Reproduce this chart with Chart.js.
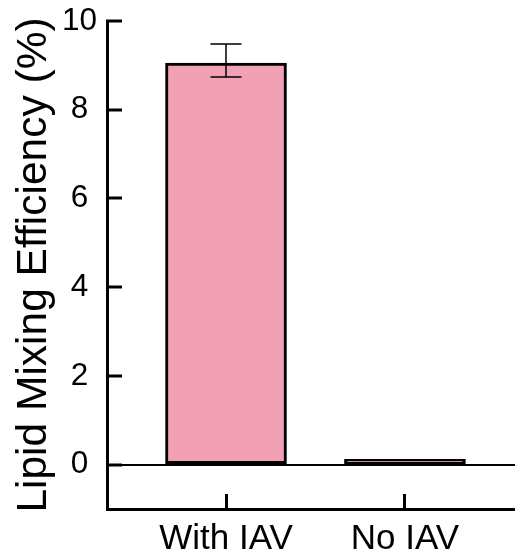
<!DOCTYPE html>
<html lang="en">
<head>
    <meta charset="utf-8" />
    <title>Lipid Mixing Efficiency</title>
    <script src="https://cdn.jsdelivr.net/npm/chart.js@4.4.0/dist/chart.umd.min.js"></script>
    <style>
        html, body { margin: 0; padding: 0; background: #fff; }
        #wrap { width: 515px; height: 559px; position: relative; }
    </style>
</head>
<body>
    <div id="wrap"><canvas id="chart"></canvas></div>
    <script>
        // data
        const categories = ['With IAV', 'No IAV'];
        const positions = [1, 2];
        const efficiency = [9.05, 0.12];
        const errHigh = [9.48, null];
        const errLow = [8.74, null];
        const yTicks = [0, 2, 4, 6, 8, 10];

        const FONT = "'Liberation Sans', Arial, sans-serif";
        Chart.defaults.color = '#000';
        Chart.defaults.font.family = FONT;

        // error bars drawn from the y scale
        const errorBars = {
            id: 'errorBars',
            afterDatasetsDraw(chart) {
                const ctx = chart.ctx;
                const y = chart.scales.y;
                const meta = chart.getDatasetMeta(0);
                ctx.save();
                ctx.strokeStyle = '#000';
                ctx.lineWidth = 1.5;
                meta.data.forEach((bar, i) => {
                    if (errHigh[i] == null) return;
                    const yh = y.getPixelForValue(errHigh[i]);
                    const yl = y.getPixelForValue(errLow[i]);
                    const cap = 15.5;
                    ctx.beginPath();
                    ctx.moveTo(bar.x, yh); ctx.lineTo(bar.x, yl);
                    ctx.moveTo(bar.x - cap, yh); ctx.lineTo(bar.x + cap, yh);
                    ctx.moveTo(bar.x - cap, yl); ctx.lineTo(bar.x + cap, yl);
                    ctx.stroke();
                });
                ctx.restore();
            }
        };

        new Chart(document.getElementById('chart'), {
            type: 'bar',
            data: {
                datasets: [{
                    data: positions.map((p, i) => ({ x: p, y: efficiency[i] })),
                    backgroundColor: '#F2A0B4',
                    borderColor: '#000',
                    borderWidth: 3,
                    borderSkipped: false,
                    barThickness: 121
                }]
            },
            options: {
                responsive: true,
                maintainAspectRatio: false,
                animation: false,
                layout: { padding: 0 },
                plugins: {
                    legend: { display: false },
                    tooltip: { enabled: false }
                },
                scales: {
                    x: {
                        type: 'linear',
                        offset: false,
                        min: 0.335,
                        max: 2.615,
                        afterBuildTicks: s => { s.ticks = positions.map(v => ({ value: v })); },
                        afterFit: s => { s.height = 50; },
                        border: { display: true, color: '#000', width: 3 },
                        grid: {
                            offset: false,
                            color: 'transparent',
                            drawTicks: true,
                            tickLength: -15,
                            tickColor: '#000',
                            tickWidth: 3
                        },
                        ticks: {
                            font: { size: 35 },
                            padding: 24,
                            maxRotation: 0,
                            autoSkip: false,
                            callback: v => categories[positions.indexOf(v)]
                        }
                    },
                    y: {
                        min: -1,
                        max: 10,
                        afterBuildTicks: s => { s.ticks = yTicks.map(v => ({ value: v })); },
                        afterFit: s => {
                            s.width = 107;
                            s.paddingTop = 21;
                            s.paddingBottom = 0;
                        },
                        border: { display: true, color: '#000', width: 3 },
                        grid: {
                            color: c => (c.tick && c.tick.value === 0) ? '#000' : 'transparent',
                            lineWidth: 2,
                            drawTicks: true,
                            tickLength: -15,
                            tickColor: '#000',
                            tickWidth: 3
                        },
                        ticks: {
                            font: { size: 31.5 },
                            padding: 25,
                            crossAlign: 'center'
                        },
                        title: {
                            display: true,
                            text: 'Lipid Mixing Efficiency (%)',
                            font: { size: 42.5 },
                            padding: { top: 9, bottom: 0 }
                        }
                    }
                }
            },
            plugins: [errorBars]
        });
    </script>
</body>
</html>
